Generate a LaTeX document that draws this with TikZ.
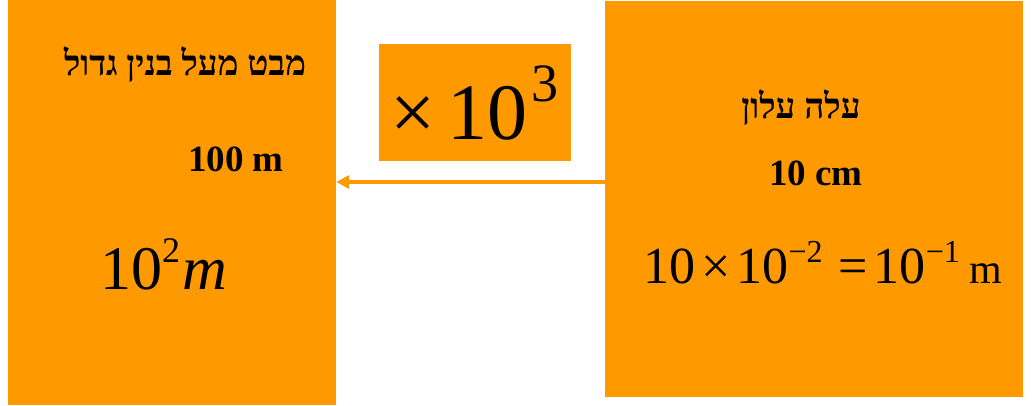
\documentclass[tikz,border=0pt]{standalone}
\usepackage{fontspec}
\setmainfont{Liberation Serif}
\newfontfamily\hebfont[Script=Hebrew]{Liberation Serif}
\TeXXeTstate=1
\usepackage{xcolor}
\usetikzlibrary{arrows.meta,positioning}
\definecolor{boxorange}{RGB}{255,153,0}
\newcommand{\fsz}[1]{\fontsize{#1}{#1}\selectfont}
\newcommand{\powr}[3]{\raisebox{#1}{\fsz{#2}#3}}

\begin{document}
\begin{tikzpicture}[x=1pt, y=-1pt,
    panel/.style={fill=boxorange, draw=none, inner sep=0pt},
    heb/.style={font=\hebfont\bfseries\fsz{35}, inner sep=0pt},
    size/.style={font=\bfseries\fsz{37}, inner sep=0pt},
    flow/.style={draw=boxorange, line width=4pt, -{Triangle[length=13pt, width=13pt]}}]
    \useasboundingbox (0,0) rectangle (1032,405);
    % panels: building (left), leaf (right), factor in between
    \node[panel, minimum width=328pt, minimum height=405pt] (building) at (172,202.5) {};
    \node[panel, minimum width=418pt, minimum height=396pt] (leaf) at (814,199) {};
    \node[panel, minimum width=192pt, minimum height=117pt] (factor) at (475,102.5) {};
    \node[anchor=base west, inner sep=0pt] (factortext) at (390,139)
        {\fsz{80}×\kern12pt10\kern4pt\powr{38pt}{54}{3}};
    % left panel
    \node[heb, anchor=base] (bldtitle) at (185,75) {\beginR מבט מעל בנין גדול\endR};
    \node[size, anchor=base] (bldsize) at (236,171) {100 m};
    \node[anchor=base west, inner sep=0pt] (bldpow) at (100,289)
        {\fsz{62}10\powr{27pt}{36}{2}\kern2pt\textit{m}};
    % right panel
    \node[heb, anchor=base] (leaftitle) at (801,118) {\beginR עלה עלון\endR};
    \node[size, anchor=base] (leafsize) at (816,185) {10 cm};
    \node[anchor=base west, inner sep=0pt] (leafpow) at (643,283)
        {\fsz{52}10\kern6pt×\kern6pt10\powr{21pt}{32}{−2}\kern16pt=\kern6pt10\powr{21pt}{32}{−1}\kern10pt{\fsz{42}m}};
    % arrow from leaf to building
    \draw[flow] ([yshift=17pt]leaf.west) -- ([yshift=20.5pt]building.east);
\end{tikzpicture}
\end{document}
